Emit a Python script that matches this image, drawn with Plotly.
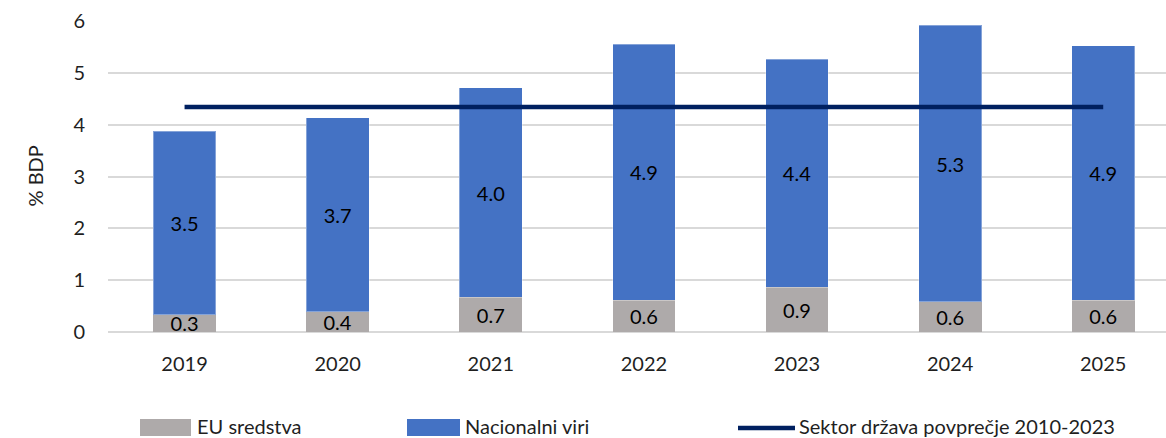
import plotly.graph_objects as go

years = ["2019", "2020", "2021", "2022", "2023", "2024", "2025"]
eu_funds = [0.33, 0.39, 0.67, 0.61, 0.86, 0.58, 0.61]
national = [3.54, 3.74, 4.04, 4.94, 4.40, 5.34, 4.91]
avg_2010_2023 = 4.34
avg_line = [avg_2010_2023] * len(years)

FONT = "Lato, 'Open Sans', sans-serif"
GRAY = "#AEAAAA"
BLUE = "#4472C4"
NAVY = "#002060"
TXT = "#1f1f1f"

fig = go.Figure()
fig.add_trace(go.Bar(
    x=years, y=eu_funds, name="EU sredstva",
    marker=dict(color=GRAY, line=dict(width=0)),
    text=[f"{v:.1f}" for v in eu_funds], textposition="inside",
    insidetextanchor="middle", constraintext="none",
    textfont=dict(family=FONT, size=20, color="#000000"),
    showlegend=False,
))
fig.add_trace(go.Bar(
    x=years, y=national, name="Nacionalni viri",
    marker=dict(color=BLUE, line=dict(width=1, color="rgba(255,255,255,0.35)")),
    text=[f"{v:.1f}" for v in national], textposition="inside",
    insidetextanchor="middle", constraintext="none",
    textfont=dict(family=FONT, size=20, color="#000000"),
    showlegend=False,
))
fig.add_trace(go.Scatter(
    x=years, y=avg_line, mode="lines", name="Sektor država povprečje 2010-2023",
    line=dict(color=NAVY, width=4.5),
    showlegend=False,
))

W, H = 1166, 438
ML, MR, MT, MB = 108, 0, 21, 106
fig.update_layout(
    width=W, height=H,
    margin=dict(l=ML, r=MR, t=MT, b=MB, pad=0, autoexpand=False),
    barmode="stack", bargap=0.59,
    plot_bgcolor="white", paper_bgcolor="white",
    font=dict(family=FONT, size=20, color=TXT),
    xaxis=dict(type="category", range=[-0.5, 6.41], showgrid=False,
               automargin=False, ticks="", ticklabelstandoff=18,
               tickfont=dict(size=20, color=TXT)),
    yaxis=dict(range=[0, 6], dtick=1, showgrid=True, gridcolor="#D9D9D9",
               gridwidth=1.5, zeroline=True, zerolinecolor="#D9D9D9",
               zerolinewidth=1.5, ticks="", ticklabelstandoff=22,
               automargin=False,
               tickfont=dict(size=20, color=TXT)),
    showlegend=False,
)

# y-axis title
fig.add_annotation(text="% BDP", xref="paper", yref="paper",
                   x=-(ML - 20) / (W - ML - MR), y=0.5, textangle=-90,
                   showarrow=False, font=dict(size=20, color=TXT))

# custom legend (in pixel-based paper coords)
pw = W - ML - MR
ph = H - MT - MB
def px(x):
    return (x - ML) / pw
def py(y):
    return (H - MB - y) / ph

legend_items = [
    ("rect", GRAY, 140, 191, "EU sredstva", 195),
    ("rect", BLUE, 407, 460, "Nacionalni viri", 463),
    ("line", NAVY, 738, 795, "Sektor država povprečje 2010-2023", 797),
]
ly = 426
for kind, col, x0, x1, label, tx in legend_items:
    if kind == "rect":
        fig.add_shape(type="rect", xref="paper", yref="paper",
                      x0=px(x0), x1=px(x1), y0=py(ly + 10), y1=py(ly - 7),
                      fillcolor=col, line=dict(width=0))
    else:
        fig.add_shape(type="line", xref="paper", yref="paper",
                      x0=px(x0), x1=px(x1), y0=py(ly + 2), y1=py(ly + 2),
                      line=dict(color=col, width=4.5))
    fig.add_annotation(text=label, xref="paper", yref="paper",
                       x=px(tx), y=py(ly), xanchor="left", yanchor="middle",
                       showarrow=False, font=dict(size=20, color=TXT))

fig.write_html(
    "out.html",
    config={"displayModeBar": False},
    post_script="document.body.style.margin='0';document.body.style.overflow='hidden';",
)
